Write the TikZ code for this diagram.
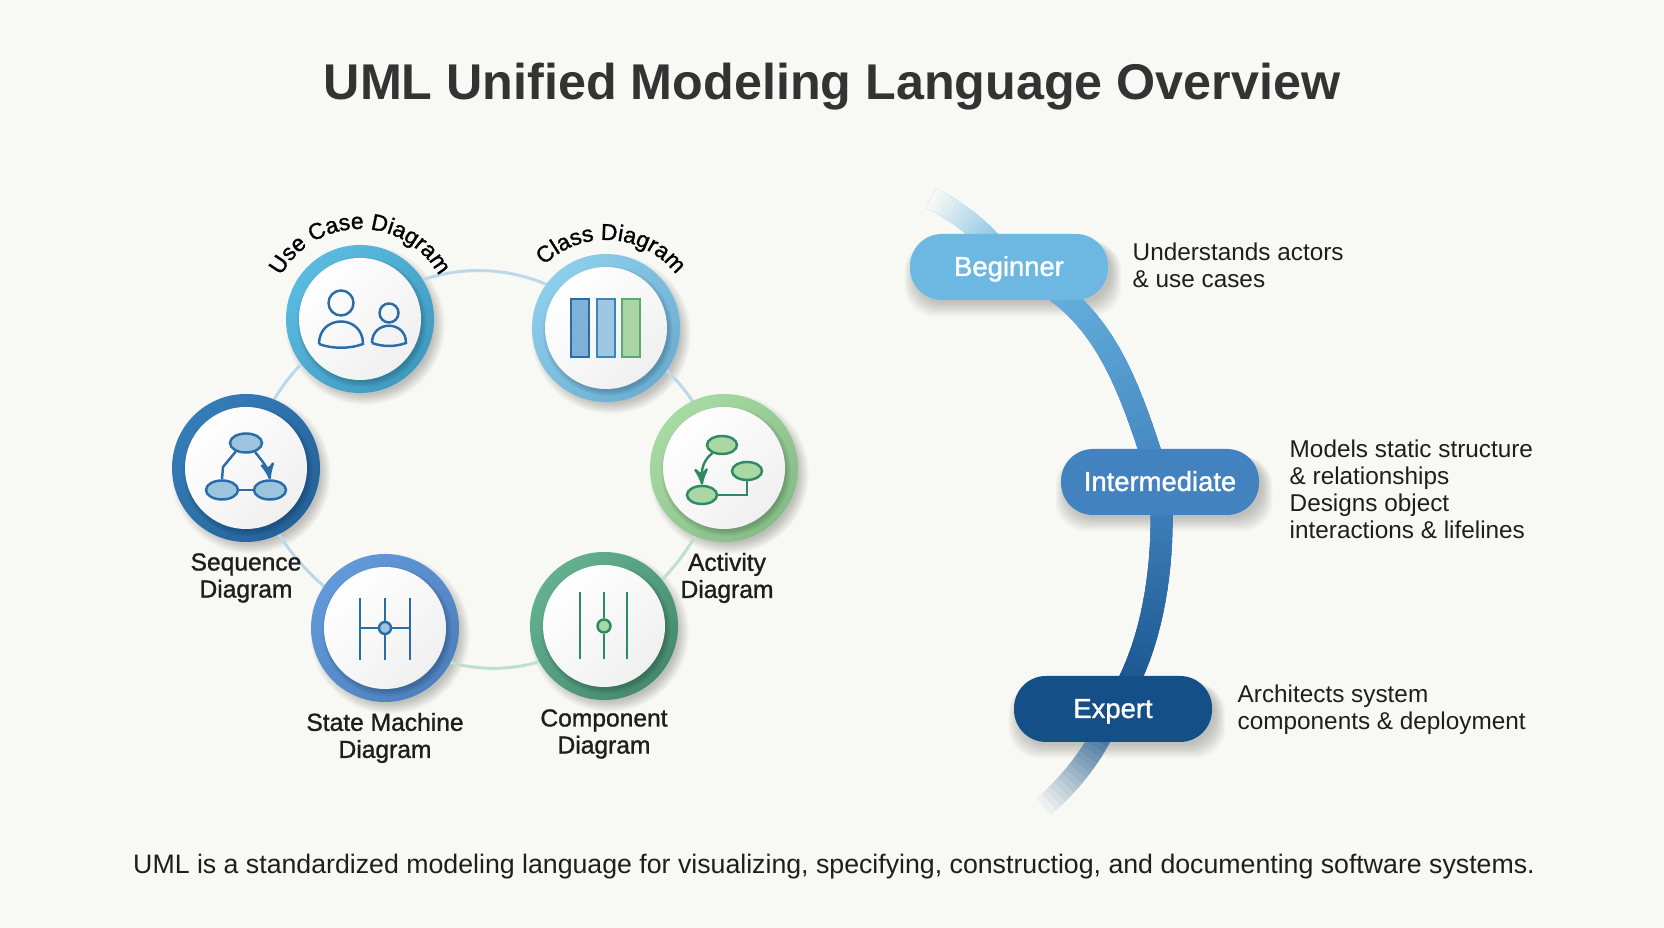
\documentclass[tikz,border=0pt]{standalone}
\usepackage{fontspec}
\setmainfont{Liberation Sans}
\newfontfamily\medfont[FakeBold=1.2]{Liberation Sans}
\usetikzlibrary{backgrounds}
\usetikzlibrary{arrows}
\usetikzlibrary{shapes.geometric}
\usetikzlibrary{decorations.text}
\definecolor{pagebg}{HTML}{F8F8F4}
\definecolor{titleink}{HTML}{333333}
\definecolor{ink}{HTML}{1E1E1E}
\definecolor{iconblue}{HTML}{2A6CA8}
\definecolor{icongreen}{HTML}{2F8A63}
\definecolor{fillblue}{HTML}{9CC4DF}
\definecolor{fillgreen}{HTML}{A9D8A5}
\definecolor{tracksky}{HTML}{6CB8E2}
\definecolor{trackmid}{HTML}{4283BF}
\definecolor{tracknavy}{HTML}{154F87}
\definecolor{cUse}{HTML}{5ABBE0}
\definecolor{cUseD}{HTML}{3F9AC0}
\definecolor{cClass}{HTML}{8DCEEC}
\definecolor{cClassD}{HTML}{6CAED2}
\definecolor{cAct}{HTML}{A8DBA3}
\definecolor{cActD}{HTML}{86BC88}
\definecolor{cComp}{HTML}{63B190}
\definecolor{cCompD}{HTML}{468A6E}
\definecolor{cState}{HTML}{6299DA}
\definecolor{cStateD}{HTML}{4D80BC}
\definecolor{cSeq}{HTML}{357DB8}
\definecolor{cSeqD}{HTML}{25629A}
\definecolor{cBarA}{HTML}{7FB0D8}
\definecolor{cBarB}{HTML}{9CC8E4}
\definecolor{cBarBD}{HTML}{3A86B8}
\definecolor{cBarC}{HTML}{A9D5A5}
\definecolor{cBarCD}{HTML}{5AA878}
\definecolor{cArcA}{HTML}{BCD9EC}
\definecolor{cArcB}{HTML}{BFE0CC}
\tikzstyle{lbl}=[align=center, inner sep=0pt, text=ink, font=\medfont\fontsize{7}{7.7}\selectfont]
\tikzstyle{desc}=[align=left, anchor=west, inner sep=0pt, text=ink, font=\fontsize{6.92}{7.7}\selectfont]
\tikzstyle{pill}=[rectangle, rounded corners=.32cm, minimum width=1.98cm, minimum height=.66cm, inner sep=0pt, text height=.23cm, text depth=.05cm, text=white, font=\medfont\fontsize{7.8}{8}\selectfont]
\tikzstyle{disc}=[circle, minimum size=1.22cm, inner sep=0pt, top color=white, bottom color=black!6, shading angle=45]
\tikzstyle{oval}=[ellipse, inner sep=0pt, minimum width=.32cm, minimum height=.19cm, line width=.7pt]
\tikzstyle{dot}=[circle, inner sep=0pt, minimum size=.12cm, line width=.7pt]
\tikzstyle{link}=[line width=.7pt]
\tikzstyle{band}=[line width=.22cm]
\tikzset{ring/.style 2 args={circle, minimum size=1.48cm, inner sep=0pt, top color=#1, bottom color=#2, shading angle=45}}
\tikzset{arcline/.style={line width=.85pt, draw=#1}}
\newcommand{\gradcurve}[4]{
	\draw[band, draw=#3] #1;
	\foreach \k in {0,...,19}{
		\pgfmathsetmacro\pct{5*\k}
		\pgfmathsetmacro\gap{\k*#4/20}
		\pgfmathsetmacro\piece{1.2*#4/20}
		\draw[band, draw=#3!\pct!#2, dash pattern=on 0pt off \gap cm on \piece cm off 50cm] #1;
	}
}
\begin{document}
\begin{tikzpicture}
	\useasboundingbox (0,0) rectangle (16.64,9.28);

	%The title and the closing sentence
	\draw (8.32,8.41) node[text=titleink, font=\bfseries\fontsize{14.3}{16}\selectfont] (title) {UML Unified Modeling Language Overview};
	\draw (8.34,0.61) node[text=ink, font=\fontsize{7.6}{8}\selectfont] (note) {UML is a standardized modeling language for visualizing, specifying, constructiog, and documenting software systems.};

	%The six rings
	\draw (3.60,6.09) node[ring={cUse}{cUseD}] (usecase) {};
	\draw (6.06,6.00) node[ring={cClass}{cClassD}] (class) {};
	\draw (7.24,4.60) node[ring={cAct}{cActD}] (activity) {};
	\draw (6.04,3.02) node[ring={cComp}{cCompD}] (component) {};
	\draw (3.85,3.00) node[ring={cState}{cStateD}] (state) {};
	\draw (2.46,4.60) node[ring={cSeq}{cSeqD}] (sequence) {};
	\foreach \n in {usecase,class,activity,component,state,sequence}{
		\foreach \s in {0,...,5}
			\fill[black, fill opacity=.03] ([shift={(.02,-.03)}]\n.center) circle ({.60+.01*\s});
		\draw (\n.center) node[disc] (\n-in) {};
	}

	%Use case icon
	\begin{scope}[shift={(usecase.center)}, link, draw=iconblue]
		\draw (-.19,.16) node[circle, draw=iconblue, line width=.7pt, minimum size=.25cm, inner sep=0pt] (headA) {};
		\draw (-.41,-.25) .. controls (-.41,.05) and (.03,.05) .. (.03,-.25) .. controls (-.1,-.3) and (-.28,-.3) .. (-.41,-.25);
		\draw (.29,.06) node[circle, draw=iconblue, line width=.7pt, minimum size=.19cm, inner sep=0pt] (headB) {};
		\draw (.12,-.24) .. controls (.12,-.01) and (.46,-.01) .. (.46,-.24) .. controls (.35,-.28) and (.23,-.28) .. (.12,-.24);
	\end{scope}

	%Class icon
	\begin{scope}[shift={(class.center)}]
		\draw[line width=.75pt, draw=iconblue, fill=cBarA] (-.35,-.29) rectangle (-.17,.29);
		\draw[line width=.75pt, draw=cBarBD, fill=cBarB] (-.09,-.29) rectangle (.09,.29);
		\draw[line width=.75pt, draw=cBarCD, fill=cBarC] (.16,-.29) rectangle (.34,.29);
	\end{scope}

	%Sequence icon
	\begin{scope}[shift={(sequence.center)}]
		\draw (0,.25) node[oval, draw=iconblue, fill=fillblue] (seqTop) {};
		\draw (-.24,-.22) node[oval, draw=iconblue, fill=fillblue] (seqLeft) {};
		\draw (.24,-.22) node[oval, draw=iconblue, fill=fillblue] (seqRight) {};
		\draw[link, draw=iconblue] (seqLeft) -- (seqRight);
		\draw[link, draw=iconblue] (seqTop.220) -- (-.23,.01) -- (seqLeft.north);
		\draw[link, draw=iconblue, ->, >=stealth'] (seqTop.-45) .. controls (.17,.06) and (.22,0) .. (seqRight.north);
	\end{scope}

	%Activity icon
	\begin{scope}[shift={(activity.center)}]
		\draw (-.02,.23) node[oval, minimum width=.3cm, minimum height=.18cm, draw=icongreen, fill=fillgreen] (actTop) {};
		\draw (.23,-.03) node[oval, minimum width=.3cm, minimum height=.18cm, draw=icongreen, fill=fillgreen] (actRight) {};
		\draw (-.22,-.27) node[oval, minimum width=.3cm, minimum height=.18cm, draw=icongreen, fill=fillgreen] (actLeft) {};
		\draw[link, draw=icongreen, ->, >=stealth'] (actTop.220) .. controls (-.2,.08) and (-.23,0) .. (actLeft.north);
		\draw[link, draw=icongreen] (actLeft.east) -| (actRight.south);
	\end{scope}

	%State machine icon
	\begin{scope}[shift={(state.center)}]
		\draw (0,0) node[dot, draw=iconblue, fill=fillblue] (stDot) {};
		\draw (-.25,.3) coordinate (stA1);
		\draw (-.25,-.32) coordinate (stA2);
		\draw (0,.3) coordinate (stB1);
		\draw (0,-.32) coordinate (stB2);
		\draw (.25,.3) coordinate (stC1);
		\draw (.25,-.32) coordinate (stC2);
		\draw[link, draw=iconblue] (stA1) -- (stA2);
		\draw[link, draw=iconblue] (stC1) -- (stC2);
		\draw[link, draw=iconblue] (stB1) -- (stDot) -- (stB2);
		\draw[link, draw=iconblue] (-.25,0) -- (stDot) -- (.25,0);
	\end{scope}

	%Component icon
	\begin{scope}[shift={(component.center)}]
		\draw (0,0) node[dot, minimum size=.13cm, draw=icongreen, fill=fillgreen] (coDot) {};
		\draw (-.24,.34) coordinate (coA1);
		\draw (-.24,-.33) coordinate (coA2);
		\draw (0,.34) coordinate (coB1);
		\draw (0,-.33) coordinate (coB2);
		\draw (.23,.34) coordinate (coC1);
		\draw (.23,-.33) coordinate (coC2);
		\draw[link, draw=icongreen] (coA1) -- (coA2);
		\draw[link, draw=icongreen] (coC1) -- (coC2);
		\draw[link, draw=icongreen] (coB1) -- (coDot) -- (coB2);
	\end{scope}

	%The ring labels
	\path[decorate, decoration={text along path, text align=center, text={|\medfont\fontsize{6.5}{7.7}\selectfont|Use Case Diagram}}] (usecase.center) ++(150:.9) arc (150:30:.9);
	\path[decorate, decoration={text along path, text align=center, text={|\medfont\fontsize{6.5}{7.7}\selectfont|Class Diagram}}] (class.center) ++(141:.88) arc (141:31:.88);
	\draw (2.46,3.50) node[lbl] (lbl-sequence) {Sequence\\Diagram};
	\draw (7.27,3.50) node[lbl] (lbl-activity) {Activity\\Diagram};
	\draw (3.85,1.90) node[lbl] (lbl-state) {State Machine\\Diagram};
	\draw (6.04,1.94) node[lbl] (lbl-component) {Component\\Diagram};

	%The levels
	\draw (10.09,6.61) node[pill, fill=tracksky] (beginner) {Beginner};
	\draw (11.60,4.46) node[pill, fill=trackmid] (intermediate) {Intermediate};
	\draw (11.13,2.19) node[pill, fill=tracknavy] (expert) {Expert};
	\draw (9.31,7.30) coordinate (trackStart);
	\draw (10.43,1.21) coordinate (trackEnd);

	%The level notes
	\draw (11.32,6.63) node[desc] (desc-beginner) {Understands actors\\\& use cases};
	\draw (12.89,4.39) node[desc] (desc-intermediate) {Models static structure\\\& relationships\\Designs object\\interactions \& lifelines};
	\draw (12.37,2.18) node[desc] (desc-expert) {Architects system\\components \& deployment};

	\begin{scope}[on background layer]
		\fill[pagebg] (0,0) rectangle (16.64,9.28);

		%Soft shadows
		\foreach \n in {usecase,class,activity,component,state,sequence}
			\foreach \s in {0,...,11}
				\fill[black, fill opacity=.02] ([shift={(.05,-.06)}]\n.center) circle ({.69+.01*\s});
		\foreach \n in {beginner,intermediate,expert}
			\foreach \s in {0,...,9}
				\fill[black, fill opacity=.022, rounded corners=.3cm] ([shift={({.06-.012*\s},{-.02-.015*\s})}]\n.south west) rectangle ([shift={({.02+.012*\s},-.08)}]\n.north east);

		%The loop behind the rings
		\draw[arcline=cArcA] (usecase.center) to[bend left=47] (class.center);
		\draw[arcline=cArcA] (class.center) to[bend left=22] (activity.center);
		\draw[arcline=cArcB] (activity.center) to[bend left=20] (component.center);
		\draw[arcline=cArcB] (component.center) to[bend left=40] (state.center);
		\draw[arcline=cArcA] (state.center) to[bend left=20] (sequence.center);
		\draw[arcline=cArcA] (sequence.center) to[bend left=22] (usecase.center);

		%The track behind the levels
		\gradcurve{(trackStart) .. controls (9.60,7.15) and (9.90,6.93) .. (beginner.center)}{pagebg}{tracksky}{.95}
		\gradcurve{(beginner.center) .. controls (11.05,6.28) and (11.30,5.38) .. (intermediate.center)}{tracksky}{trackmid}{2.7}
		\gradcurve{(intermediate.center) .. controls (11.65,3.88) and (11.60,2.88) .. (expert.center)}{trackmid}{tracknavy}{2.35}
		\gradcurve{(expert.center) .. controls (11.00,1.83) and (10.75,1.48) .. (trackEnd)}{tracknavy}{pagebg}{1.2}
	\end{scope}
\end{tikzpicture}
\end{document}
